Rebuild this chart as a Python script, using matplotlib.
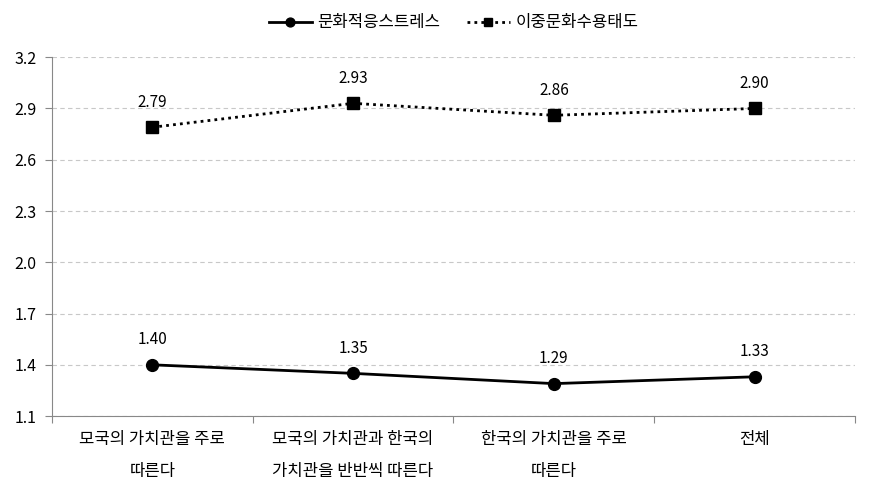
import matplotlib
matplotlib.use("Agg")
import matplotlib.pyplot as plt

plt.rcParams['font.family'] = ['Noto Sans CJK KR', 'DejaVu Sans']

categories = ["모국의 가치관을 주로\n따른다", "모국의 가치관과 한국의\n가치관을 반반씩 따른다",
              "한국의 가치관을 주로\n따른다", "전체"]
stress = [1.40, 1.35, 1.29, 1.33]  # 문화적응스트레스
attitude = [2.79, 2.93, 2.86, 2.90]  # 이중문화수용태도
yticks = [1.1, 1.4, 1.7, 2.0, 2.3, 2.6, 2.9, 3.2]

fig = plt.figure(figsize=(8.71, 4.93), dpi=100)
ax = fig.add_axes([0.0597, 0.156, 0.9219, 0.728])

x = list(range(len(categories)))
ax.plot(x, stress, color='black', lw=2, marker='o', ms=8.5, label='문화적응스트레스')
ax.plot(x, attitude, color='black', lw=2, ls=(0, (1, 1.5)), marker='s', ms=8.5,
        label='이중문화수용태도')

for xi, v in zip(x, stress):
    ax.annotate(f"{v:.2f}", (xi, v), xytext=(0, 12), textcoords='offset points',
                ha='center', va='bottom', fontsize=11)
for xi, v in zip(x, attitude):
    ax.annotate(f"{v:.2f}", (xi, v), xytext=(0, 12), textcoords='offset points',
                ha='center', va='bottom', fontsize=11)

ax.set_xlim(-0.5, 3.5)
ax.set_ylim(1.1, 3.2)
ax.set_yticks(yticks)
ax.set_yticklabels([f"{t:.1f}" for t in yticks], fontsize=11.5)
ax.yaxis.grid(True, color='#c8c8c8', ls=(0, (4, 3)), lw=0.8)
ax.set_axisbelow(True)

ax.set_xticks([-0.5, 0.5, 1.5, 2.5, 3.5], minor=False)
ax.set_xticklabels([])
ax.set_xticks(x, minor=True)
ax.set_xticklabels(categories, minor=True, fontsize=12, linespacing=2.1)
ax.tick_params(axis='x', which='major', length=5, color='#888888', direction='out')
ax.tick_params(axis='x', which='minor', length=0, pad=11)
ax.tick_params(axis='y', length=5, color='#888888', pad=6)

for s in ['top', 'right']:
    ax.spines[s].set_visible(False)
for s in ['left', 'bottom']:
    ax.spines[s].set_color('#888888')

ax.legend(loc='lower center', bbox_to_anchor=(0.5, 1.03), ncol=2, frameon=False,
          fontsize=12, handlelength=2.6, handletextpad=0.3, columnspacing=1.6,
          markerscale=0.75)

fig.savefig("out.png", dpi=100)
